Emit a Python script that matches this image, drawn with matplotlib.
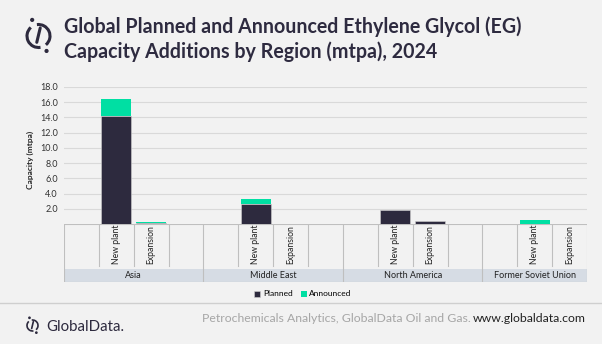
import numpy as np
import matplotlib.pyplot as plt
from matplotlib.patches import Arc, Circle, Rectangle

plt.rcParams['font.family'] = ['Lato', 'DejaVu Sans']

# data
regions = ['Asia', 'Middle East', 'North America', 'Former Soviet Union']
types = ['New plant', 'Expansion']
planned = [14.2, 0.1, 2.6, 0.0, 1.8, 0.45, 0.0, 0.0]
announced = [2.2, 0.1, 0.65, 0.0, 0.0, 0.0, 0.55, 0.0]
yticks = [2, 4, 6, 8, 10, 12, 14, 16, 18]

dark = '#2d2a3e'
green = '#00dfa3'
bg = '#f2f2f2'
W, H = 602, 344

fig = plt.figure(figsize=(W / 100, H / 100), dpi=100, facecolor=bg)

# overlay in pixel coords for title / footer
ov = fig.add_axes([0, 0, 1, 1])
ov.set_xlim(0, W)
ov.set_ylim(H, 0)
ov.axis('off')
ov.patch.set_visible(False)

ov.text(64, 27, 'Global Planned and Announced Ethylene Glycol (EG)', fontsize=14.1,
        fontweight='bold', color='#2e2b40', va='center', ha='left')
ov.text(64, 52, 'Capacity Additions by Region (mtpa), 2024', fontsize=14.1,
        fontweight='bold', color='#2e2b40', va='center', ha='left')


def logo(cx, cy, r, lw):
    # broken circle with a slanted stroke and two dots
    ov.add_patch(Arc((cx, cy), 2 * r, 2 * r, theta1=80, theta2=228, color=dark, lw=lw))
    ov.add_patch(Arc((cx, cy), 2 * r, 2 * r, theta1=262, theta2=410, color=dark, lw=lw))
    ov.plot([cx + 0.15 * r, cx - 0.15 * r], [cy - 0.7 * r, cy + 0.55 * r], color=dark, lw=lw,
            solid_capstyle='round')
    ov.add_patch(Circle((cx - 0.55 * r, cy - 1.4 * r), 0.12 * r, color=dark))
    ov.add_patch(Circle((cx + 0.7 * r, cy + 1.3 * r), 0.12 * r, color=dark))


logo(38.5, 36, 11.5, 2.2)
logo(32.5, 325.5, 5.5, 1.2)

ov.text(46, 327, 'GlobalData.', fontsize=10.8, color=dark, va='center', ha='left')
ov.plot([0, W], [303, 303], color='#cfcfcf', lw=1)
ov.text(471, 318, 'Petrochemicals Analytics, GlobalData Oil and Gas.', fontsize=8.85,
        color='#a6a6a6', va='center', ha='right')
ov.text(473, 318, 'www.globaldata.com', fontsize=8.85, color='#222222', va='center', ha='left')
ov.text(30, 160, 'Capacity (mtpa)', fontsize=6, fontweight='bold', color='#222222',
        rotation=90, va='center', ha='center')

# main chart
left, right, top, base, bottom = 64, 587, 87, 224, 282
ax = fig.add_axes([left / W, 1 - base / H, (right - left) / W, (base - top) / H])
ax.patch.set_visible(False)
x = np.array([4 * (i // 2) + 1 + (i % 2) for i in range(len(planned))])
b1 = ax.bar(x, planned, width=0.86, color=dark, edgecolor='#d0d0d0', lw=0.4, zorder=3,
            label='Planned')
b2 = ax.bar(x, announced, width=0.86, bottom=planned, color=green, lw=0, zorder=3,
            label='Announced')
ax.set_xlim(-0.5, 14.5)
ax.set_ylim(0, 18)
ax.set_yticks(yticks)
ax.set_yticklabels([f'{v:.1f}' for v in yticks], fontsize=6.5, color='#333333')
ax.tick_params(axis='y', length=0, pad=4.5)
ax.set_xticks([])
ax.grid(axis='y', color='#d9d9d9', lw=0.8, zorder=0)
for s in ax.spines.values():
    s.set_visible(False)

# category table
tb = fig.add_axes([left / W, 1 - bottom / H, (right - left) / W, (bottom - base) / H])
tb.set_xlim(-0.5, 14.5)
tb.set_ylim(0, 1)
tb.axis('off')
band = (bottom - 269) / (bottom - base)
short = (bottom - 266) / (bottom - base)
lc = '#bfbfbf'
tb.add_patch(Rectangle((-0.5, 0), 15, band, color='#d6dce4', lw=0))
tb.plot([-0.5, 14.5], [1, 1], color=lc, lw=0.8)
tb.plot([-0.5, 14.5], [0, 0], color=lc, lw=0.8)
for xv in [-0.5, 3.5, 7.5, 11.5, 14.5]:
    tb.plot([xv, xv], [0, 1], color=lc, lw=0.8)
for xv in [0.5, 1.5, 2.5, 4.5, 5.5, 6.5, 8.5, 9.5, 10.5, 12.5, 13.5]:
    tb.plot([xv, xv], [short, 1], color=lc, lw=0.8)
for i, xv in enumerate(x):
    tb.text(xv, (bottom - 264) / (bottom - base), types[i % 2], rotation=90, fontsize=6.2,
            color='#222222', ha='center', va='bottom')
centers = [1.5, 5.5, 9.5, 13]
for r, c in zip(regions, centers):
    tb.text(c, band / 2, r, fontsize=6.5, color='#222222', ha='center', va='center')

fig.legend(handles=[b1, b2], loc='center', bbox_to_anchor=(303 / W, 1 - 294 / H), ncol=2,
           frameon=False, fontsize=6, handlelength=0.7, handleheight=0.7,
           columnspacing=1.0, handletextpad=0.3)

fig.savefig('out.png', dpi=100, facecolor=bg)
